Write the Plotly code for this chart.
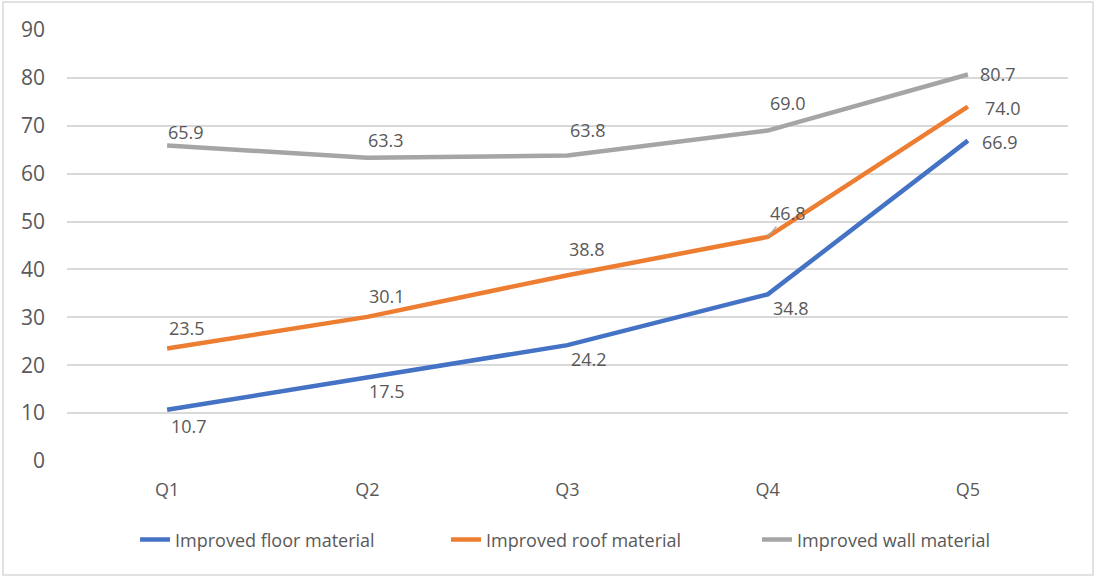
import plotly.graph_objects as go

categories = ["Q1", "Q2", "Q3", "Q4", "Q5"]
floor_values = [10.7, 17.5, 24.2, 34.8, 66.9]
roof_values = [23.5, 30.1, 38.8, 46.8, 74.0]
wall_values = [65.9, 63.3, 63.8, 69.0, 80.7]
y_ticks = [0, 10, 20, 30, 40, 50, 60, 70, 80, 90]

series = [
    ("Improved floor material", floor_values, "#4472C4",
     [(22, -16), (20, -14), (21, -14), (23, -14), (32, -1)]),
    ("Improved roof material", roof_values, "#ED7D31",
     [(20, 20), (20, 21), (19, 26), (20, 24), (35, -1)]),
    ("Improved wall material", wall_values, "#A5A5A5",
     [(19, 13), (19, 18), (20, 25), (20, 28), (30, 1)]),
]

FONT = "Open Sans"
TEXT = "#595959"
FS = 18

fig = go.Figure()
annotations = []
for name, vals, color, offsets in series:
    fig.add_trace(go.Scatter(
        x=categories, y=vals, name=name, mode="lines",
        line=dict(color=color, width=4.5),
        hoverinfo="x+y",
    ))
    for cat, v, (dx, dy) in zip(categories, vals, offsets):
        label = dict(
            x=cat, y=v, xref="x", yref="y", text=f"{v:.1f}",
            font=dict(family=FONT, size=FS, color=TEXT),
            showarrow=False, xshift=dx, yshift=dy,
        )
        # leader line for the label that sits off its point
        if name == "Improved roof material" and cat == "Q4":
            label.update(showarrow=True, ax=dx, ay=-dy, arrowhead=0,
                         arrowwidth=1.3, arrowcolor="#A5A5A5",
                         standoff=0, xshift=0, yshift=0)
        annotations.append(label)

fig.update_layout(
    width=1097, height=578,
    margin=dict(l=67, r=29, t=30, b=117),
    paper_bgcolor="white", plot_bgcolor="white",
    font=dict(family=FONT, size=FS, color=TEXT),
    showlegend=True,
    legend=dict(orientation="h", x=0.534, xanchor="center",
                y=-0.183, yanchor="middle",
                font=dict(family=FONT, size=FS, color=TEXT),
                entrywidth=266, entrywidthmode="pixels",
                itemwidth=30, tracegroupgap=0),
    annotations=annotations,
    shapes=[dict(type="rect", xref="paper", yref="paper",
                 x0=-0.0639, x1=1.025, y0=-0.2645, y1=1.065,
                 line=dict(color="#D9D9D9", width=1.5),
                 fillcolor="rgba(0,0,0,0)", layer="below")],
)
fig.update_xaxes(
    type="category", range=[-0.5, 4.5], showgrid=False,
    showline=False, zeroline=False, ticks="",
    ticklabelstandoff=16,
    tickfont=dict(family=FONT, size=FS, color=TEXT),
)
fig.update_yaxes(
    range=[0, 90], tickvals=y_ticks, showgrid=True,
    gridcolor="#D9D9D9", gridwidth=1.5, zeroline=False,
    showline=False, ticks="", ticklabelstandoff=21,
    tickfont=dict(family=FONT, size=21, color=TEXT),
)

fig.write_html("out.html")
